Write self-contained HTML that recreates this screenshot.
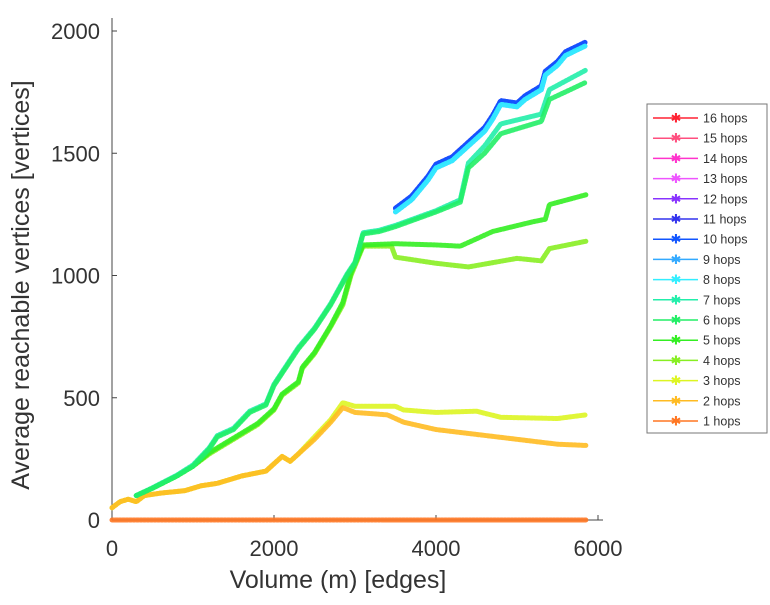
<!DOCTYPE html>
<html><head><meta charset="utf-8"><style>
body{margin:0;background:#fff;width:770px;height:600px;overflow:hidden}
svg text{font-family:"Liberation Sans",sans-serif;fill:#333}
</style></head><body>
<svg id="chart" width="770" height="600">
<g id="axes"></g>
<g id="series"></g>
<g id="legend"></g>
<text x="338" y="588" font-size="25" text-anchor="middle">Volume (m) [edges]</text>
<text transform="translate(29,285) rotate(-90)" font-size="25" text-anchor="middle">Average reachable vertices [vertices]</text>
</svg>
<script>
const xTicks=[0,2000,4000,6000];
const yTicks=[0,500,1000,1500,2000];
const hopLabels=["16 hops","15 hops","14 hops","13 hops","12 hops","11 hops","10 hops","9 hops","8 hops","7 hops","6 hops","5 hops","4 hops","3 hops","2 hops","1 hops"];
const hopColors=["#ff2233","#ff4f7f","#ff33cc","#ee55ff","#8833ff","#3333ee","#1155ff","#33aaff","#33eeff","#22eeaa","#22ee66","#33ee22","#88ee22","#ddf522","#ffbb22","#ff7722"];
const hops1=[[0,0],[5850,0]];
const hops2=[[0,50],[100,75],[200,85],[300,75],[400,100],[600,110],[900,120],[1100,140],[1300,150],[1600,180],[1900,200],[2000,230],[2100,260],[2200,240],[2300,270],[2500,330],[2700,400],[2850,460],[3000,440],[3400,430],[3600,400],[4000,370],[4500,350],[5000,330],[5500,310],[5850,305]];
const hops3=[[0,50],[100,75],[200,85],[300,75],[400,100],[600,110],[900,120],[1100,140],[1300,150],[1600,180],[1900,200],[2000,230],[2100,260],[2200,240],[2300,270],[2500,340],[2700,410],[2850,480],[3000,465],[3500,465],[3600,450],[4000,440],[4500,445],[4800,420],[5500,415],[5850,430]];
const hops4=[[300,100],[500,130],[800,180],[1000,220],[1200,270],[1500,330],[1800,390],[2000,450],[2100,510],[2300,560],[2350,620],[2500,680],[2700,790],[2850,880],[2950,1000],[3100,1120],[3450,1120],[3500,1075],[4000,1050],[4400,1035],[5000,1070],[5300,1060],[5400,1110],[5850,1140]];
const hops5=[[300,100],[500,130],[800,180],[1000,220],[1200,275],[1500,335],[1800,395],[2000,455],[2100,515],[2300,565],[2350,625],[2500,685],[2700,795],[2850,890],[2950,1010],[3100,1125],[3500,1130],[4000,1125],[4300,1120],[4700,1180],[5200,1220],[5350,1230],[5400,1290],[5850,1330]];
const hops6=[[300,100],[500,130],[800,180],[1000,220],[1200,290],[1300,340],[1500,370],[1700,440],[1900,470],[2000,550],[2100,600],[2300,700],[2500,780],[2700,880],[2900,1000],[3000,1050],[3100,1170],[3300,1180],[3500,1200],[4000,1260],[4300,1300],[4400,1440],[4600,1500],[4800,1580],[5300,1630],[5400,1720],[5850,1790]];
const hops7=[[300,100],[500,132],[800,183],[1000,225],[1200,295],[1300,345],[1500,375],[1700,445],[1900,475],[2000,555],[2100,605],[2300,705],[2500,785],[2700,885],[2900,1005],[3000,1055],[3100,1175],[3300,1185],[3500,1205],[4000,1265],[4300,1310],[4400,1460],[4600,1530],[4800,1620],[5300,1660],[5400,1760],[5850,1840]];
const hops8and9=[[3500,1260],[3700,1310],[3900,1390],[4000,1440],[4200,1470],[4400,1530],[4600,1590],[4700,1640],[4800,1700],[5000,1690],[5100,1720],[5300,1760],[5350,1820],[5500,1860],[5600,1900],[5850,1940]];
const hops10to12=[[3500,1275],[3700,1325],[3900,1405],[4000,1455],[4200,1485],[4400,1545],[4600,1605],[4700,1655],[4800,1715],[5000,1705],[5100,1735],[5300,1775],[5350,1835],[5500,1875],[5600,1915],[5850,1955]];
const seriesData={"1 hops":hops1,"2 hops":hops2,"3 hops":hops3,"4 hops":hops4,"5 hops":hops5,"6 hops":hops6,"7 hops":hops7,"8 hops":hops8and9,"9 hops":hops8and9,"10 hops":hops10to12,"11 hops":hops10to12,"12 hops":hops10to12};
const NS="http://www.w3.org/2000/svg";
function sx(v){return 112+v*(486/6000);}
function sy(v){return 520-v*(489/2000);}
function mk(tag,attrs,parent){const e=document.createElementNS(NS,tag);for(const k in attrs)e.setAttribute(k,attrs[k]);parent.appendChild(e);return e;}
const axes=document.getElementById('axes');
let l=mk('line',{x1:112,y1:18,x2:112,y2:520,stroke:'#444','stroke-width':1},axes);


l=mk('line',{x1:112,y1:520,x2:603,y2:520,stroke:'#444','stroke-width':1},axes);


xTicks.forEach(t=>{
 const tk=mk('line',{x1:sx(t),y1:520,x2:sx(t),y2:515,stroke:'#444'},axes);
 
 
 const tx=mk('text',{x:sx(t),y:556,'font-size':22,'text-anchor':'middle'},axes);
 tx.textContent=t;
 
 
});
yTicks.forEach(t=>{
 const tk=mk('line',{x1:112,y1:sy(t),x2:117,y2:sy(t),stroke:'#444'},axes);
 
 
 const tx=mk('text',{x:100,y:sy(t)+8,'font-size':22,'text-anchor':'end'},axes);
 tx.textContent=t;
 
 
});
const sg=document.getElementById('series');
const order=["1 hops","3 hops","2 hops","4 hops","5 hops","7 hops","6 hops","12 hops","11 hops","10 hops","9 hops","8 hops"];
order.forEach(name=>{
 const d=seriesData[name];const c=hopColors[hopLabels.indexOf(name)];
 const p=mk('polyline',{points:d.map(q=>sx(q[0])+','+sy(q[1])).join(' '),fill:'none',stroke:c,'stroke-width':5,'stroke-linejoin':'round','stroke-linecap':'round','stroke-dasharray':'2 1.5',opacity:0.9},sg);
 
 
});
const lg=document.getElementById('legend');
const box=mk('rect',{x:647,y:104,width:120,height:329,fill:'#fff',stroke:'#777','stroke-width':1},lg);


hopLabels.forEach((name,i)=>{
 const y=118+i*20.2;
 const g=mk('g',{},lg);
 
 
 mk('line',{x1:653,y1:y,x2:698,y2:y,stroke:hopColors[i],'stroke-width':1.5},g);
 const m=mk('text',{x:676,y:y+4.5,'font-size':13,'text-anchor':'middle',fill:hopColors[i],style:'fill:'+hopColors[i]},g);
 m.textContent='✱';
 const t=mk('text',{x:703,y:y+4.5,'font-size':12.5},g);
 t.textContent=name;
});
</script>
</body></html>
